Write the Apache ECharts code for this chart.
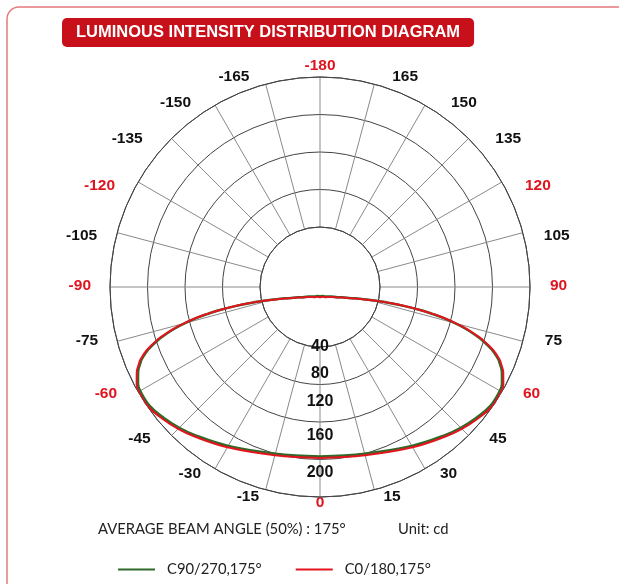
<!DOCTYPE html>
<html><head><meta charset="utf-8">
<script src="https://cdn.jsdelivr.net/npm/echarts@6/dist/echarts.min.js"></script>
<style>html,body{margin:0;padding:0;background:#fff}#c{width:619px;height:584px}</style>
</head><body><div id="c"></div>
<script>
const titleText = 'LUMINOUS INTENSITY DISTRIBUTION DIAGRAM';
const beamText = 'AVERAGE BEAM ANGLE (50%) : 175°';
const unitText = 'Unit: cd';
const seriesNames = ['C90/270,175°', 'C0/180,175°'];
const redAngleLabels = [-180, -120, -90, -60, 0, 60, 90, 120];
const radiusLabels = [40, 80, 120, 160, 200];

// polar angles (deg, 0 = downwards) of the traced curve points
const curveAngles = [
  0, 15, 30, 40, 45, 50, 55, 60, 62, 65, 67, 68, 70, 72, 73, 74, 75, 76, 76.5, 77, 77.3,
  77, 76.5, 76, 75, 74, 73, 72, 70, 65, 60, 50, 45, 30, 15, 0,
  -15, -30, -45, -50, -60, -65, -70, -72, -73, -74, -75, -76, -76.5, -77,
  -77.3,
  -77, -76.5, -76, -75, -74, -73, -72, -70, -68, -67, -65, -62, -60, -55, -50, -45, -40, -30, -15, 0];
// C90/270 intensities (cd) at those angles
const c90Values = [
  186, 190, 204, 217, 224, 230, 235, 235, 233, 226, 219, 215, 203, 186, 175, 163, 148, 130, 118, 103, 79,
  57, 47, 40, 31, 25, 20, 16, 10, 0, -5, -12, -14, -17, -19, -19,
  -19, -17, -14, -12, -5, 0, 10, 16, 20, 25, 31, 40, 47, 57,
  79,
  103, 118, 130, 148, 163, 175, 186, 203, 215, 219, 226, 233, 235, 235, 230, 224, 217, 204, 190, 186];
// C0/180 intensities (cd) at those angles
const c0Values = [
  188, 192, 206, 219, 226, 232, 237, 237, 235, 228, 221, 217, 205, 188, 177, 165, 150, 132, 120, 104, 80,
  58, 48, 41, 32, 26, 21, 17, 11, 1, -4, -11, -13, -16, -18, -18,
  -18, -16, -13, -11, -4, 1, 11, 17, 21, 26, 32, 41, 48, 58,
  80,
  104, 120, 132, 150, 165, 177, 188, 205, 217, 221, 228, 235, 237, 237, 232, 226, 219, 206, 192, 188];

// label placement nudges (padding [top, right, bottom, left]) for the angle labels
const labelPad = {
  '-180': [0, 0, 33, 0], '-165': [0, 79, 28, 0], '-150': [0, 39, 20, 0], '-135': [0, 50, 13, 0],
  '-120': [0, 49, 3, 0], '-105': [0, 49, 9, 0], '-90': [0, 49, 2, 0], '-75': [15, 48, 0, 0],
  '-60': [9, 47, 0, 0], '-45': [16, 42, 0, 0], '-30': [23, 29, 0, 0], '-15': [28, 51, 0, 0],
  '0': [28, 0, 0, 0], '15': [28, 0, 0, 51], '30': [23, 0, 0, 30], '45': [16, 0, 0, 42],
  '60': [9, 0, 0, 47], '75': [15, 0, 0, 51], '90': [0, 0, 2, 50], '105': [0, 0, 9, 50],
  '120': [0, 0, 3, 49], '135': [0, 0, 13, 48], '150': [0, 0, 20, 41], '165': [0, 0, 28, 77],
  '180': [0, 0, 33, 0]
};
// nudges for the radial labels
const radiusPad = { '40': [8, 0, 0, 0], '80': [0, 0, 0, 0], '120': [0, 0, 6, 0], '160': [0, 0, 2, 0], '200': [10, 0, 0, 0] };

const F = 'Liberation Sans';
const keyOf = v => (v < 0 ? 'n' : 'p') + Math.abs(v);
const rich = {};
Object.keys(labelPad).forEach(k => {
  const v = Number(k);
  rich[keyOf(v)] = {
    color: redAngleLabels.includes(v) ? '#e0141e' : '#111',
    fontSize: 15.5, fontWeight: 'bold', fontFamily: F, padding: labelPad[k]
  };
});
const rrich = {};
Object.keys(radiusPad).forEach(k => {
  rrich['r' + k] = { color: '#111', fontSize: 16, fontWeight: 'bold', fontFamily: F, padding: radiusPad[k] };
});

const chart = echarts.init(document.getElementById('c'));
const option = {
  backgroundColor: '#fff',
  animation: false,
  graphic: [{
    type: 'rect', shape: { x: 7, y: 7, width: 700, height: 700, r: 12 },
    style: { fill: 'none', stroke: '#e47a7a', lineWidth: 1.5 }, z: -10
  }],
  title: [
    { text: titleText, left: 62, top: 18, padding: [6, 14, 6, 14], backgroundColor: '#c8101a', borderRadius: 5,
      textStyle: { color: '#fff', fontSize: 16.5, fontWeight: 'bold', fontFamily: F } },
    { text: beamText, left: 98, top: 522, padding: 0,
      textStyle: { color: '#222', fontSize: 14.8, fontWeight: 'normal', fontFamily: 'Lato' } },
    { text: unitText, left: 398, top: 522, padding: 0,
      textStyle: { color: '#222', fontSize: 14.8, fontWeight: 'normal', fontFamily: 'Lato' } }
  ],
  legend: {
    left: 118, top: 562, padding: 0, itemWidth: 37, itemHeight: 2, itemGap: 34, icon: 'rect',
    data: seriesNames, textStyle: { color: '#222', fontSize: 14.8, fontFamily: 'Lato', padding: [0, 0, 0, 7] }
  },
  polar: [
    { center: [320, 287], radius: [60, 210] },
    { center: [320, 287], radius: [0, 210] }
  ],
  angleAxis: [
    { polarIndex: 0, type: 'value', min: -180, max: 180, interval: 15, startAngle: 90, clockwise: false,
      axisLine: { show: true, lineStyle: { color: '#444', width: 1 } },
      axisTick: { show: false },
      splitLine: { show: true, lineStyle: { color: '#8a8a8a', width: 1 } },
      axisLabel: { show: true, margin: -30,
        formatter: v => '{' + keyOf(v) + '|' + v + '}', rich: rich } },
    { polarIndex: 1, type: 'value', min: 0, max: 360, startAngle: -90, clockwise: false, show: false }
  ],
  radiusAxis: [
    { polarIndex: 0, type: 'value', min: 0, max: 4, interval: 1,
      axisLine: { show: false }, axisTick: { show: false }, axisLabel: { show: false },
      splitLine: { show: true, lineStyle: { color: '#444', width: 1 } } },
    { polarIndex: 1, type: 'value', min: -31, max: 238,
      axisLine: { show: false }, axisTick: { show: false }, splitLine: { show: false },
      axisLabel: { show: true, customValues: radiusLabels, margin: 0, align: 'center', verticalAlign: 'middle',
        formatter: v => '{r' + v + '|' + v + '}', rich: rrich,
        color: '#111', fontSize: 16, fontWeight: 'bold', fontFamily: F } }
  ],
  series: [
    { name: seriesNames[0], type: 'line', coordinateSystem: 'polar', polarIndex: 1, clip: false,
      data: curveAngles.map((a, i) => [c90Values[i], a]), smooth: 0.4, symbol: 'none',
      lineStyle: { color: '#2f6a2a', width: 2.5 }, itemStyle: { color: '#2f6a2a' }, z: 3 },
    { name: seriesNames[1], type: 'line', coordinateSystem: 'polar', polarIndex: 1, clip: false,
      data: curveAngles.map((a, i) => [c0Values[i], a]), smooth: 0.4, symbol: 'none',
      lineStyle: { color: '#e3141e', width: 2 }, itemStyle: { color: '#e3141e' }, z: 4 }
  ]
};
chart.setOption(option);
</script></body></html>
